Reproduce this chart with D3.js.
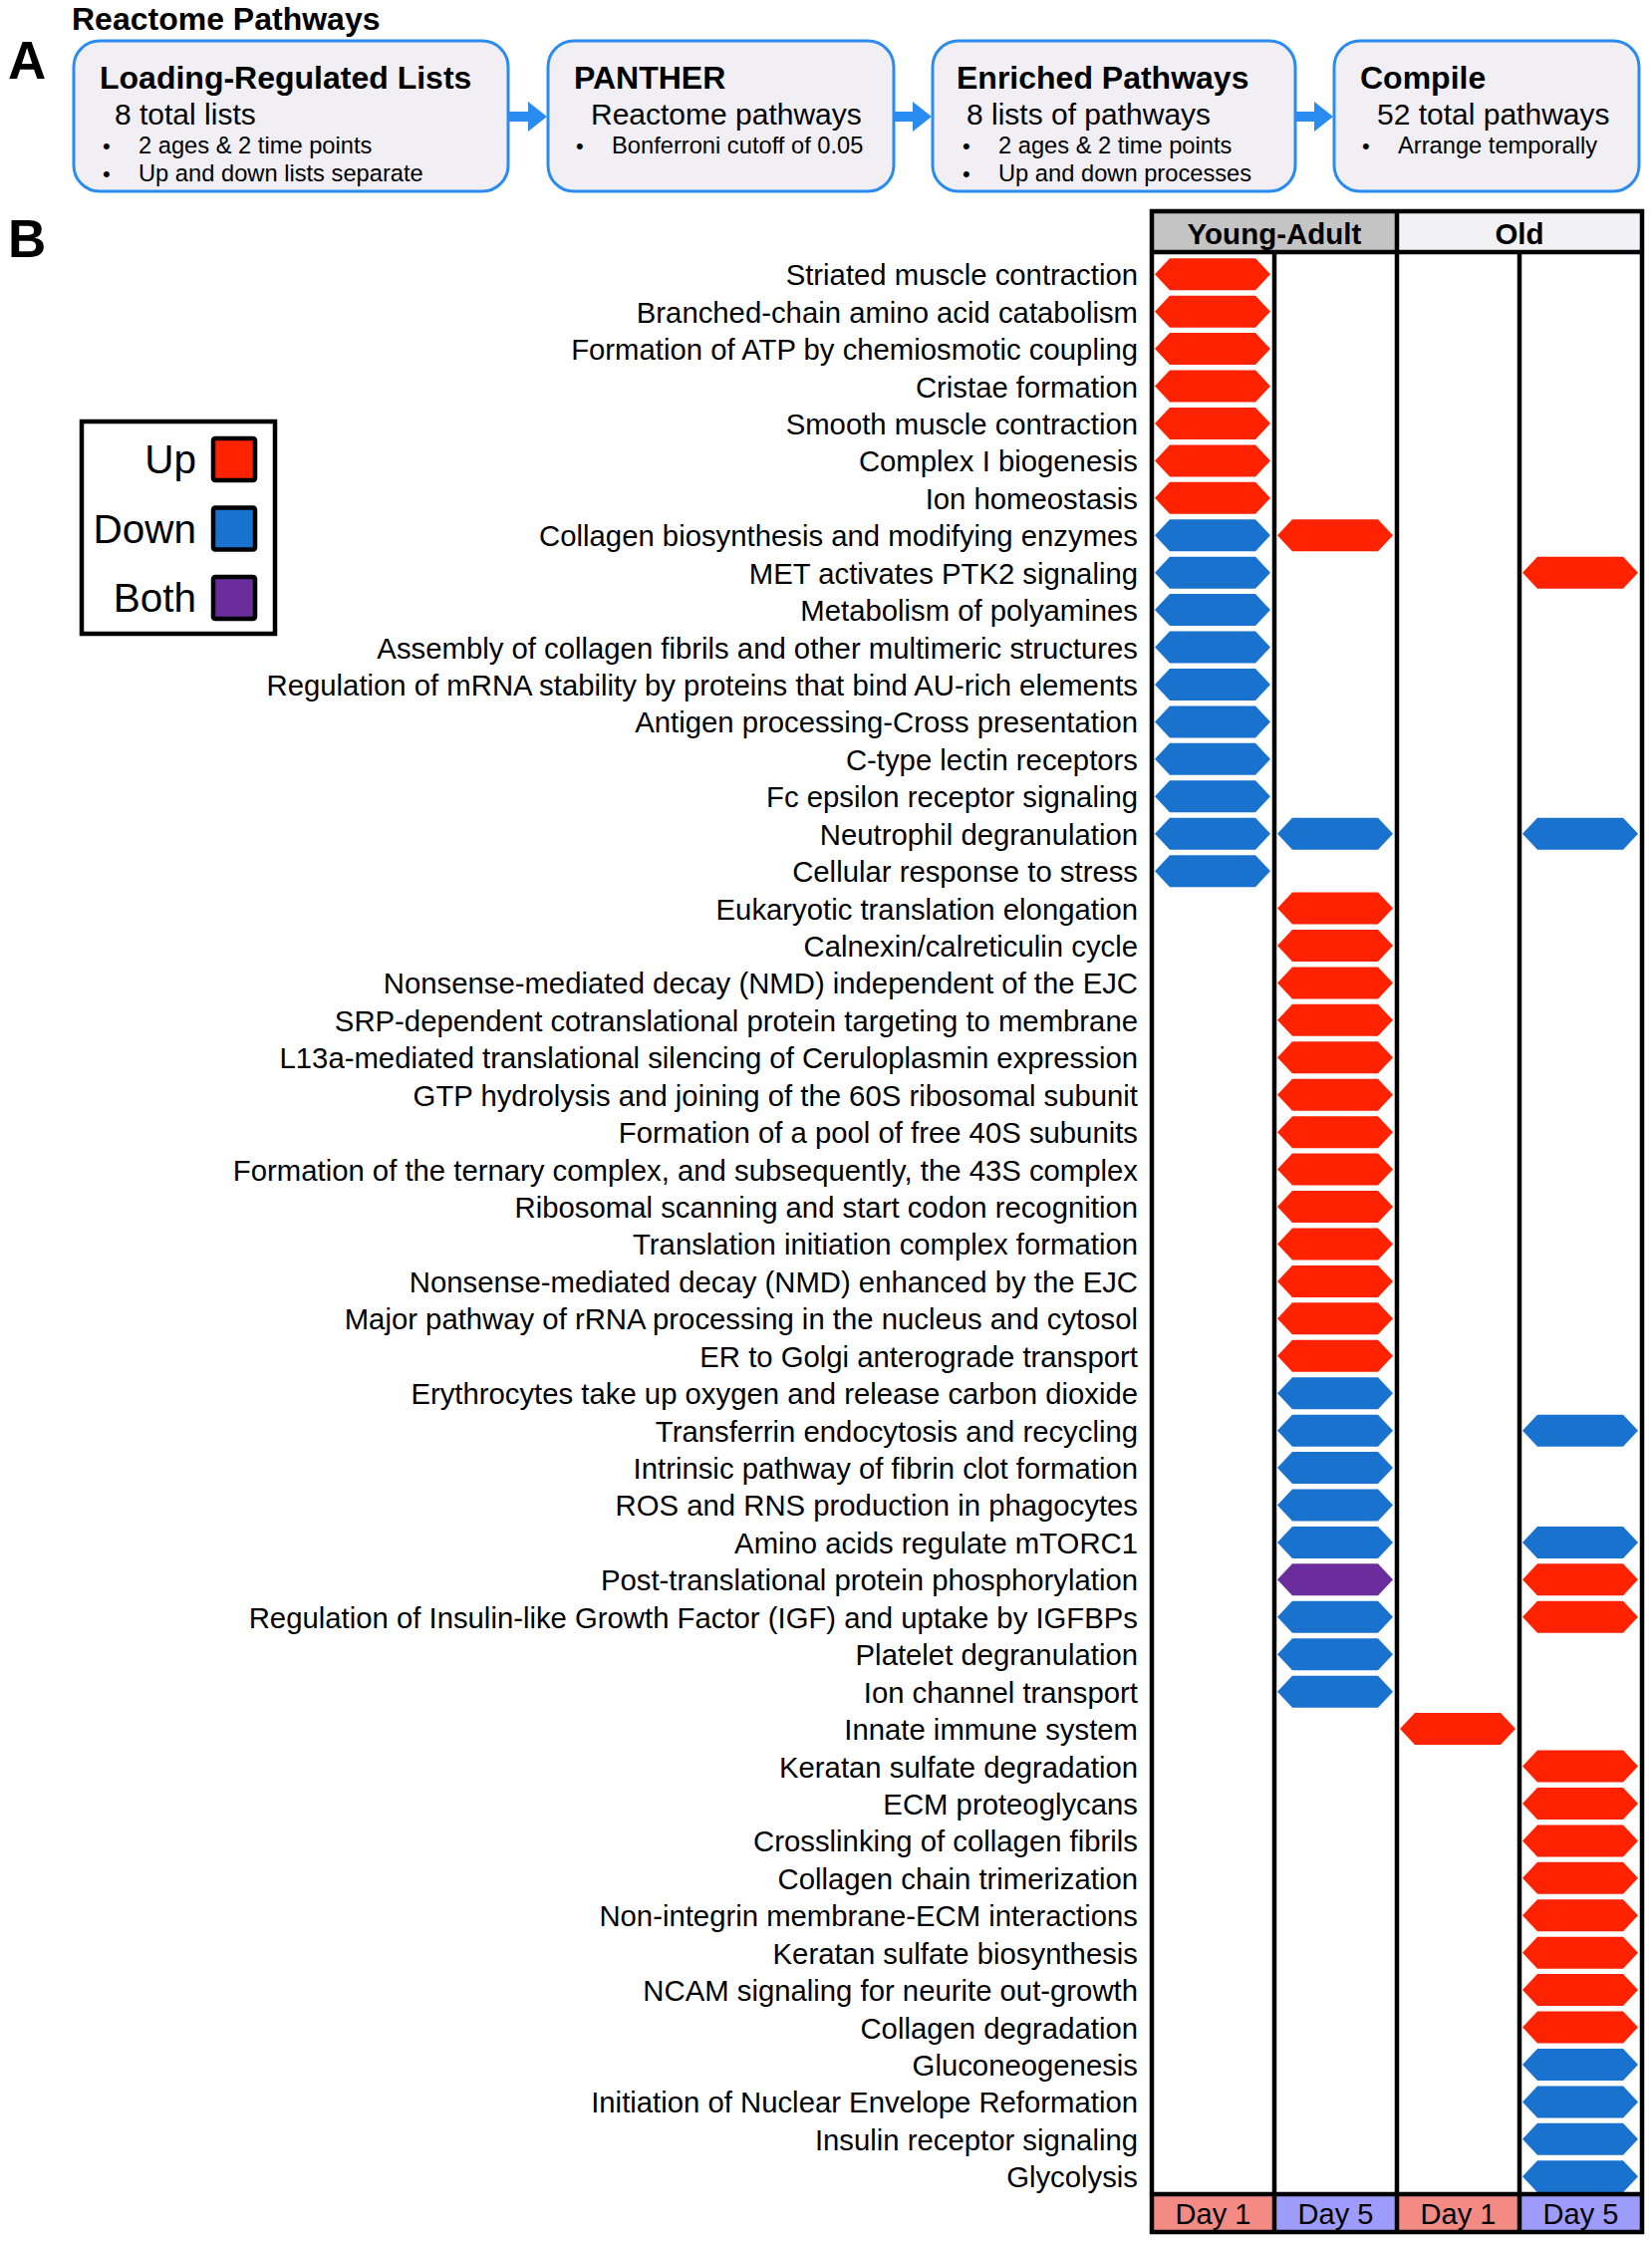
<!DOCTYPE html>
<html>
<head>
<meta charset="utf-8">
<script src="https://cdn.jsdelivr.net/npm/d3@7"></script>
<style>
  body { margin: 0; background: #fff; }
  svg text { font-family: "Liberation Sans", Arial, sans-serif; }
</style>
</head>
<body>
<svg id="fig" width="1658" height="2250"></svg>
<script>
// ---- panel A: workflow ----
const stepTitles = ["Loading-Regulated Lists", "PANTHER", "Enriched Pathways", "Compile"];
const stepSubtitles = ["8 total lists", "Reactome pathways", "8 lists of pathways", "52 total pathways"];
const stepBullets = [
    ["2 ages & 2 time points", "Up and down lists separate"],
    ["Bonferroni cutoff of 0.05"],
    ["2 ages & 2 time points", "Up and down processes"],
    ["Arrange temporally"]
];

// ---- panel B: pathways and their status per column ----
const pathways = [
    "Striated muscle contraction",
    "Branched-chain amino acid catabolism",
    "Formation of ATP by chemiosmotic coupling",
    "Cristae formation",
    "Smooth muscle contraction",
    "Complex I biogenesis",
    "Ion homeostasis",
    "Collagen biosynthesis and modifying enzymes",
    "MET activates PTK2 signaling",
    "Metabolism of polyamines",
    "Assembly of collagen fibrils and other multimeric structures",
    "Regulation of mRNA stability by proteins that bind AU-rich elements",
    "Antigen processing-Cross presentation",
    "C-type lectin receptors",
    "Fc epsilon receptor signaling",
    "Neutrophil degranulation",
    "Cellular response to stress",
    "Eukaryotic translation elongation",
    "Calnexin/calreticulin cycle",
    "Nonsense-mediated decay (NMD) independent of the EJC",
    "SRP-dependent cotranslational protein targeting to membrane",
    "L13a-mediated translational silencing of Ceruloplasmin expression",
    "GTP hydrolysis and joining of the 60S ribosomal subunit",
    "Formation of a pool of free 40S subunits",
    "Formation of the ternary complex, and subsequently, the 43S complex",
    "Ribosomal scanning and start codon recognition",
    "Translation initiation complex formation",
    "Nonsense-mediated decay (NMD) enhanced by the EJC",
    "Major pathway of rRNA processing in the nucleus and cytosol",
    "ER to Golgi anterograde transport",
    "Erythrocytes take up oxygen and release carbon dioxide",
    "Transferrin endocytosis and recycling",
    "Intrinsic pathway of fibrin clot formation",
    "ROS and RNS production in phagocytes",
    "Amino acids regulate mTORC1",
    "Post-translational protein phosphorylation",
    "Regulation of Insulin-like Growth Factor (IGF) and uptake by IGFBPs",
    "Platelet degranulation",
    "Ion channel transport",
    "Innate immune system",
    "Keratan sulfate degradation",
    "ECM proteoglycans",
    "Crosslinking of collagen fibrils",
    "Collagen chain trimerization",
    "Non-integrin membrane-ECM interactions",
    "Keratan sulfate biosynthesis",
    "NCAM signaling for neurite out-growth",
    "Collagen degradation",
    "Gluconeogenesis",
    "Initiation of Nuclear Envelope Reformation",
    "Insulin receptor signaling",
    "Glycolysis"
];

const ageGroups = ["Young-Adult", "Old"];
const columns = ["YA Day 1", "YA Day 5", "Old Day 1", "Old Day 5"];
const dayLabels = ["Day 1", "Day 5", "Day 1", "Day 5"];

// status lists: [pathway, direction]
const yaDay1 = [
    ["Striated muscle contraction", "Up"], ["Branched-chain amino acid catabolism", "Up"],
    ["Formation of ATP by chemiosmotic coupling", "Up"], ["Cristae formation", "Up"],
    ["Smooth muscle contraction", "Up"], ["Complex I biogenesis", "Up"], ["Ion homeostasis", "Up"],
    ["Collagen biosynthesis and modifying enzymes", "Down"], ["MET activates PTK2 signaling", "Down"],
    ["Metabolism of polyamines", "Down"], ["Assembly of collagen fibrils and other multimeric structures", "Down"],
    ["Regulation of mRNA stability by proteins that bind AU-rich elements", "Down"],
    ["Antigen processing-Cross presentation", "Down"], ["C-type lectin receptors", "Down"],
    ["Fc epsilon receptor signaling", "Down"], ["Neutrophil degranulation", "Down"],
    ["Cellular response to stress", "Down"]
];
const yaDay5 = [
    ["Collagen biosynthesis and modifying enzymes", "Up"], ["Neutrophil degranulation", "Down"],
    ["Eukaryotic translation elongation", "Up"], ["Calnexin/calreticulin cycle", "Up"],
    ["Nonsense-mediated decay (NMD) independent of the EJC", "Up"],
    ["SRP-dependent cotranslational protein targeting to membrane", "Up"],
    ["L13a-mediated translational silencing of Ceruloplasmin expression", "Up"],
    ["GTP hydrolysis and joining of the 60S ribosomal subunit", "Up"],
    ["Formation of a pool of free 40S subunits", "Up"],
    ["Formation of the ternary complex, and subsequently, the 43S complex", "Up"],
    ["Ribosomal scanning and start codon recognition", "Up"],
    ["Translation initiation complex formation", "Up"],
    ["Nonsense-mediated decay (NMD) enhanced by the EJC", "Up"],
    ["Major pathway of rRNA processing in the nucleus and cytosol", "Up"],
    ["ER to Golgi anterograde transport", "Up"],
    ["Erythrocytes take up oxygen and release carbon dioxide", "Down"],
    ["Transferrin endocytosis and recycling", "Down"],
    ["Intrinsic pathway of fibrin clot formation", "Down"],
    ["ROS and RNS production in phagocytes", "Down"],
    ["Amino acids regulate mTORC1", "Down"],
    ["Post-translational protein phosphorylation", "Both"],
    ["Regulation of Insulin-like Growth Factor (IGF) and uptake by IGFBPs", "Down"],
    ["Platelet degranulation", "Down"], ["Ion channel transport", "Down"]
];
const oldDay1 = [
    ["Innate immune system", "Up"]
];
const oldDay5 = [
    ["MET activates PTK2 signaling", "Up"], ["Neutrophil degranulation", "Down"],
    ["Transferrin endocytosis and recycling", "Down"], ["Amino acids regulate mTORC1", "Down"],
    ["Post-translational protein phosphorylation", "Up"],
    ["Regulation of Insulin-like Growth Factor (IGF) and uptake by IGFBPs", "Up"],
    ["Keratan sulfate degradation", "Up"], ["ECM proteoglycans", "Up"],
    ["Crosslinking of collagen fibrils", "Up"], ["Collagen chain trimerization", "Up"],
    ["Non-integrin membrane-ECM interactions", "Up"], ["Keratan sulfate biosynthesis", "Up"],
    ["NCAM signaling for neurite out-growth", "Up"], ["Collagen degradation", "Up"],
    ["Gluconeogenesis", "Down"], ["Initiation of Nuclear Envelope Reformation", "Down"],
    ["Insulin receptor signaling", "Down"], ["Glycolysis", "Down"]
];

const directions = ["Up", "Down", "Both"];
const color = d3.scaleOrdinal().domain(directions).range(["#ff2200", "#1a72cf", "#6b2d9b"]);

const svg = d3.select("#fig");
const boxBlue = "#2a8cf0";

// ================= Panel A =================
svg.append("text").attr("x", 72).attr("y", 30)
    .attr("font-size", 32).attr("font-weight", "bold").text("Reactome Pathways");
svg.append("text").attr("x", 8).attr("y", 79)
    .attr("font-size", 53).attr("font-weight", "bold").text("A");

const boxLeft = [74, 550, 936, 1339];
const boxRight = [510, 897, 1300, 1645];
const boxTop = 41, boxBottom = 192;
const titleDx = [26, 26, 24, 26], subDx = [41, 43, 34, 43], bulletDx = [29, 28, 30, 28];

stepTitles.forEach((t, i) => {
    const g = svg.append("g");
    g.append("rect")
        .attr("x", boxLeft[i]).attr("y", boxTop)
        .attr("width", boxRight[i] - boxLeft[i]).attr("height", boxBottom - boxTop)
        .attr("rx", 26).attr("ry", 26)
        .attr("fill", "#f1eff3").attr("stroke", boxBlue).attr("stroke-width", 3);
    g.append("text").attr("x", boxLeft[i] + titleDx[i]).attr("y", 89)
        .attr("font-size", 32).attr("font-weight", "bold").text(t);
    g.append("text").attr("x", boxLeft[i] + subDx[i]).attr("y", 125)
        .attr("font-size", 30).text(stepSubtitles[i]);
    stepBullets[i].forEach((b, j) => {
        const by = 154 + j * 28;
        g.append("text").attr("x", boxLeft[i] + bulletDx[i]).attr("y", by)
            .attr("font-size", 22).text("•");
        g.append("text").attr("x", boxLeft[i] + bulletDx[i] + 36).attr("y", by)
            .attr("font-size", 23.7).text(b);
    });
    if (i < stepTitles.length - 1) {
        const x0 = boxRight[i] + 1, x1 = boxLeft[i + 1] - 1, cy = 117;
        const headLen = 19;
        g.append("path")
            .attr("d", `M${x0},${cy - 5}H${x1 - headLen}V${cy - 15}L${x1},${cy}L${x1 - headLen},${cy + 15}V${cy + 5}H${x0}Z`)
            .attr("fill", boxBlue);
    }
});

// ================= Panel B =================
svg.append("text").attr("x", 8).attr("y", 258)
    .attr("font-size", 53).attr("font-weight", "bold").text("B");

const tableLeft = 1156, tableRight = 1648;
const headTop = 212, headBottom = 253, footTop = 2202, footBottom = 2240;

const x = d3.scaleBand().domain(columns).range([tableLeft, tableRight]);
const y = d3.scaleBand().domain(pathways).range([headBottom + 3.5, footTop + 1]);

// header fills
const ageX = d3.scaleBand().domain(ageGroups).range([tableLeft, tableRight]);
svg.selectAll("rect.age").data(ageGroups).enter().append("rect")
    .attr("x", d => ageX(d)).attr("y", headTop)
    .attr("width", ageX.bandwidth()).attr("height", headBottom - headTop)
    .attr("fill", (d, i) => i === 0 ? "#c4c4c4" : "#f2f1f4");
svg.selectAll("text.age").data(ageGroups).enter().append("text")
    .attr("x", d => ageX(d) + ageX.bandwidth() / 2).attr("y", 245)
    .attr("text-anchor", "middle").attr("font-size", 29.5).attr("font-weight", "bold")
    .text(d => d);

// footer fills
svg.selectAll("rect.day").data(columns).enter().append("rect")
    .attr("x", d => x(d)).attr("y", footTop)
    .attr("width", x.bandwidth()).attr("height", footBottom - footTop)
    .attr("fill", (d, i) => i % 2 === 0 ? "#f38a84" : "#9d9cfc");
svg.selectAll("text.day").data(columns).enter().append("text")
    .attr("x", d => x(d) + x.bandwidth() / 2).attr("y", 2232)
    .attr("text-anchor", "middle").attr("font-size", 29)
    .text((d, i) => dayLabels[i]);

// row labels
svg.selectAll("text.row").data(pathways).enter().append("text")
    .attr("x", 1142).attr("y", d => y(d) + y.bandwidth() / 2 + 11)
    .attr("text-anchor", "end").attr("font-size", 29.3)
    .text(d => d);

// hexagon marks
const hexH = 32, taper = 15;
function hexPath(x0, x1, cy) {
    const h = hexH / 2;
    return `M${x0},${cy}L${x0 + taper},${cy - h}H${x1 - taper}L${x1},${cy}L${x1 - taper},${cy + h}H${x0 + taper}Z`;
}
const colData = [yaDay1, yaDay5, oldDay1, oldDay5];
colData.forEach((list, ci) => {
    const col = columns[ci];
    svg.append("g").selectAll("path").data(list).enter().append("path")
        .attr("d", d => hexPath(x(col) + 3, x(col) + x.bandwidth() - 4, y(d[0]) + y.bandwidth() / 2))
        .attr("fill", d => color(d[1]));
});

// grid lines
const lw = 4.5;
const grid = svg.append("g").attr("stroke", "#000").attr("stroke-width", lw);
grid.append("rect").attr("x", tableLeft).attr("y", headTop)
    .attr("width", tableRight - tableLeft).attr("height", footBottom - headTop)
    .attr("fill", "none");
grid.append("line").attr("x1", tableLeft).attr("x2", tableRight).attr("y1", headBottom).attr("y2", headBottom);
grid.append("line").attr("x1", tableLeft).attr("x2", tableRight).attr("y1", footTop).attr("y2", footTop);
columns.slice(1).forEach((c, i) => {
    const top = (i === 1) ? headTop : headBottom;
    grid.append("line").attr("x1", x(c)).attr("x2", x(c)).attr("y1", top).attr("y2", footBottom);
});

// legend
const legTop = 423;
svg.append("rect").attr("x", 82).attr("y", legTop).attr("width", 194).attr("height", 213)
    .attr("fill", "#fff").attr("stroke", "#000").attr("stroke-width", 4.5);
const legY = d3.scalePoint().domain(directions).range([461, 600]);
const leg = svg.append("g").selectAll("g").data(directions).enter().append("g");
leg.append("rect")
    .attr("x", 214).attr("y", d => legY(d) - 21).attr("width", 42).attr("height", 42)
    .attr("rx", 2).attr("fill", d => color(d)).attr("stroke", "#000").attr("stroke-width", 4.5);
leg.append("text")
    .attr("x", 197).attr("y", d => legY(d) + 14)
    .attr("text-anchor", "end").attr("font-size", 40.5).text(d => d);
</script>
</body>
</html>
